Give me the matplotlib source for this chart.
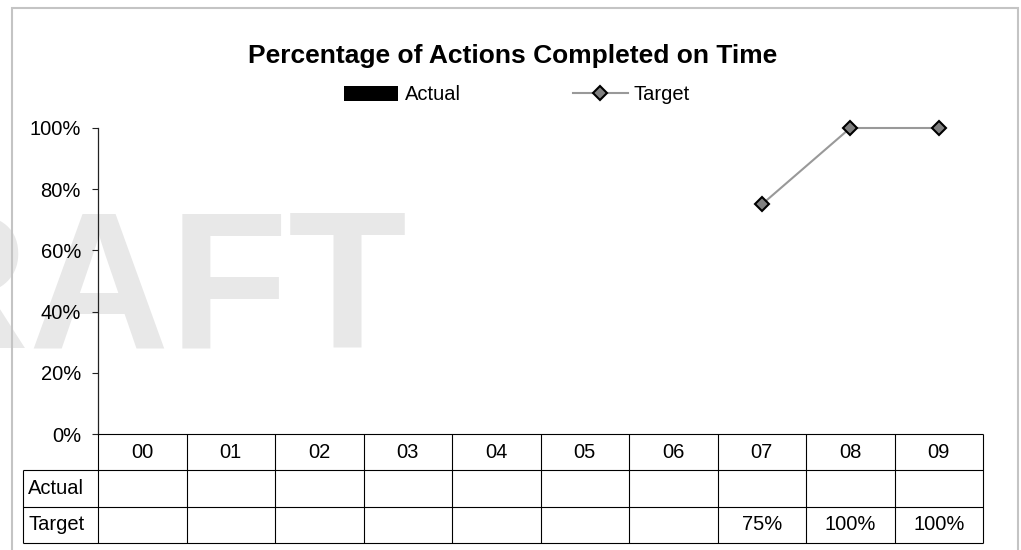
import matplotlib

matplotlib.use("Agg")

import matplotlib.pyplot as plt
import numpy as np
from matplotlib.patches import Rectangle
from matplotlib.ticker import PercentFormatter

plt.rcParams["font.family"] = ["Liberation Sans", "DejaVu Sans"]

# --- Data -----------------------------------------------------------------------------
TITLE = "Percentage of Actions Completed on Time"
categories = ["00", "01", "02", "03", "04", "05", "06", "07", "08", "09"]
actual = [None, None, None, None, None, None, None, None, None, None]
target = [None, None, None, None, None, None, None, 0.75, 1.00, 1.00]
y_ticks = [0.0, 0.2, 0.4, 0.6, 0.8, 1.0]
row_labels = ["Actual", "Target"]

# --- Layout (pixels) ------------------------------------------------------------------
W, H, DPI = 1021, 550, 100
PLOT_L, PLOT_R, PLOT_T, PLOT_B = 98, 983, 128, 434
TABLE_B = 543
LABEL_L = 23
FS = 14.5


def px_box(left, top, right, bottom):
    """Figure-fraction [l, b, w, h] from pixel edges measured from the top-left."""
    return [left / W, 1 - bottom / H, (right - left) / W, (bottom - top) / H]


fig = plt.figure(figsize=(W / DPI, H / DPI), dpi=DPI)

# Faint watermark behind everything
fig.text(407 / W, 1 - 348 / H, "DRAFT", fontsize=140, fontweight="bold",
         color="#e8e8e8", ha="right", va="baseline", zorder=-1)

# Chart-area border
fig.add_artist(Rectangle((12 / W, 1 - 570 / H), (1018 - 12) / W, (570 - 8) / H,
                         transform=fig.transFigure, fill=False,
                         edgecolor="#c4c4c4", linewidth=1.5, zorder=5))

ax = fig.add_axes(px_box(PLOT_L, PLOT_T, PLOT_R, PLOT_B))
ax.patch.set_visible(False)
x = np.arange(len(categories))
actual_vals = np.array(actual, dtype=float)
target_vals = np.array(target, dtype=float)

bars = ax.bar(x, actual_vals, width=0.6, color="black", label="Actual")
(line,) = ax.plot(x, target_vals, color="#999999", linewidth=1.5, marker="D",
                  markersize=7, markerfacecolor="#808080", markeredgecolor="black",
                  markeredgewidth=1.5, label="Target", clip_on=False, zorder=4)

ax.set_xlim(-0.5, len(categories) - 0.5)
ax.set_ylim(0, 1)
ax.set_yticks(y_ticks)
ax.yaxis.set_major_formatter(PercentFormatter(1.0, decimals=0))
ax.set_xticks([])
ax.tick_params(axis="y", direction="out", length=4.3, width=0.8, pad=8,
               labelsize=FS, color="#222222")
for side in ("top", "right", "bottom"):
    ax.spines[side].set_visible(False)
ax.spines["left"].set_linewidth(0.9)
ax.spines["left"].set_color("#222222")

# --- Data table under the plot --------------------------------------------------------
tab = fig.add_axes(px_box(PLOT_L, PLOT_B, PLOT_R, TABLE_B))
tab.set_xlim(ax.get_xlim())
tab.set_ylim(3, 0)
tab.axis("off")
col_w = (PLOT_R - PLOT_L) / len(categories)
label_left = -0.5 - (PLOT_L - LABEL_L) / col_w
right = len(categories) - 0.5
lkw = dict(color="black", linewidth=0.8, clip_on=False)

tab.hlines(0, -0.5, right, **lkw)
tab.hlines([1, 2, 3], label_left, right, **lkw)
tab.vlines(np.arange(len(categories) + 1) - 0.5, 0, 3, **lkw)
tab.vlines(label_left, 1, 3, **lkw)

for i, cat in enumerate(categories):
    tab.text(i, 0.5, cat, ha="center", va="center", fontsize=FS)
for r, (name, series) in enumerate(zip(row_labels, [actual, target]), start=1):
    tab.text(label_left + 0.06, r + 0.5, name, ha="left", va="center", fontsize=FS)
    for i, v in enumerate(series):
        if v is not None:
            tab.text(i, r + 0.5, f"{v:.0%}", ha="center", va="center", fontsize=FS)

# --- Title and legend -----------------------------------------------------------------
fig.text(513 / W, 1 - 63 / H, TITLE, ha="center", va="baseline",
         fontsize=19, fontweight="bold")
fig.legend([bars, line], ["Actual", "Target"], loc="center",
           bbox_to_anchor=(517 / W, 1 - 95 / H), ncol=2, frameon=False,
           fontsize=FS, handlelength=2.7, handleheight=0.7, handletextpad=0.3,
           columnspacing=5.6, borderpad=0)

fig.savefig("out.png", dpi=DPI)
